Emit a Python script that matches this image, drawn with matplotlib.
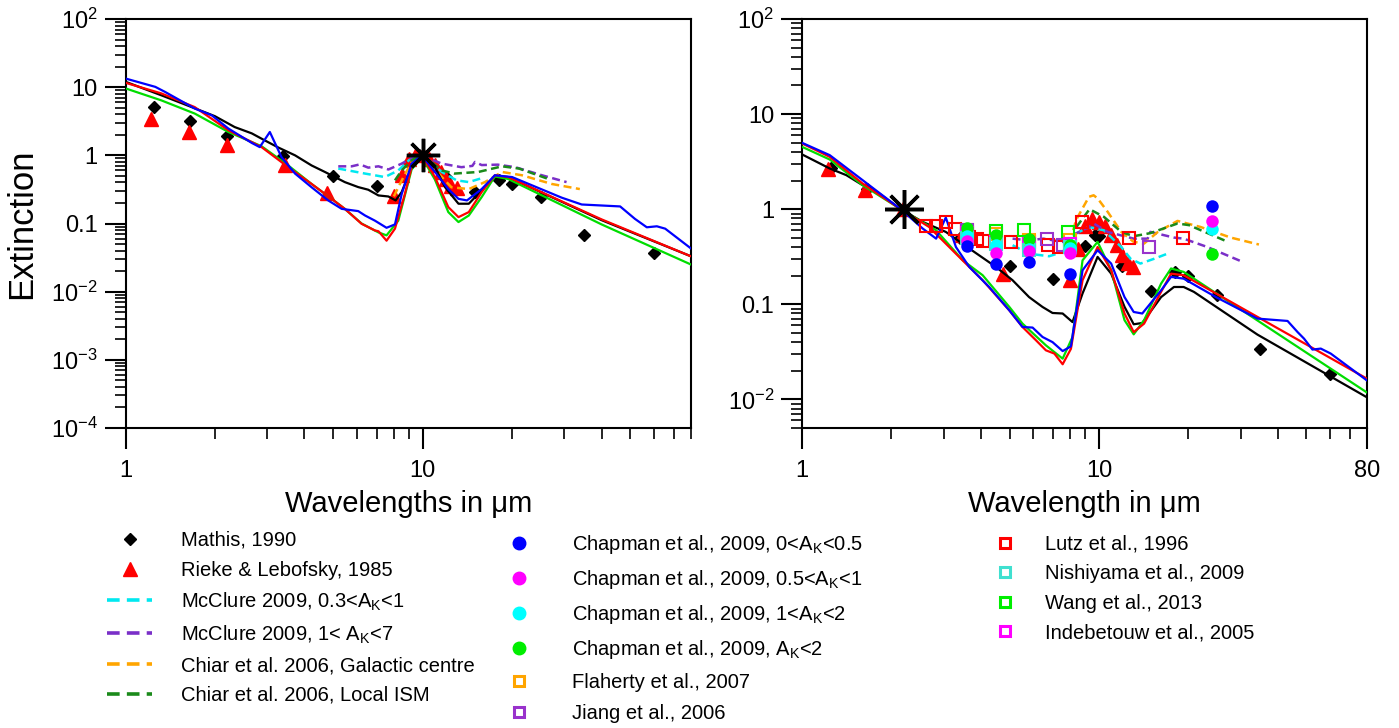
import numpy as np
import matplotlib
matplotlib.use('Agg')
import matplotlib.pyplot as plt
from matplotlib.lines import Line2D
from matplotlib.ticker import LogLocator, NullFormatter

plt.rcParams['font.family'] = ['Liberation Sans', 'DejaVu Sans']
plt.rcParams['mathtext.fontset'] = 'custom'
plt.rcParams['mathtext.rm'] = 'Liberation Sans'
plt.rcParams['mathtext.it'] = 'Liberation Sans:italic'
plt.rcParams['mathtext.bf'] = 'Liberation Sans:bold'

# ---------------- left panel (normalised at 10 um) ----------------
black_L_lam = [1.0, 1.32, 1.71, 2.0, 2.33, 2.66, 2.94, 3.27, 3.72, 4.23, 4.69, 5.47, 6.07, 6.56, 7.1, 7.67,
               8.11, 8.5, 9.18, 9.93, 11.0, 11.9, 13.2, 14.3, 15.8, 17.5, 19.4, 40.0, 80.0]
black_L_val = [12.0, 7.6, 4.9, 3.75, 2.6, 2.1, 1.66, 1.3, 1.0, 0.71, 0.57, 0.405, 0.342, 0.313, 0.258, 0.249,
               0.218, 0.289, 0.67, 1.0, 0.67, 0.34, 0.195, 0.195, 0.306, 0.49, 0.48, 0.112, 0.033]
red_L_lam = [1.0, 1.32, 1.71, 2.22, 2.87, 3.53, 4.23, 4.94, 5.47, 6.23, 6.91, 7.1, 7.56, 8.07, 8.71, 9.18,
             9.93, 11.0, 12.2, 13.2, 14.3, 15.8, 17.5, 19.4, 40.0, 80.0]
red_L_val = [11.6, 8.1, 5.1, 2.33, 1.32, 0.67, 0.38, 0.23, 0.164, 0.099, 0.079, 0.077, 0.056, 0.084, 0.27, 0.67,
             1.0, 0.48, 0.174, 0.124, 0.147, 0.289, 0.51, 0.48, 0.115, 0.033]
green_L_lam = [1.0, 1.32, 1.71, 2.22, 2.87, 3.53, 4.23, 4.94, 5.47, 6.23, 7.1, 7.56, 8.28, 9.18, 9.93, 11.0,
               12.2, 13.2, 14.3, 15.8, 17.5, 19.4, 40.0, 80.0]
green_L_val = [9.6, 6.4, 4.1, 2.2, 1.36, 0.71, 0.38, 0.23, 0.164, 0.1, 0.074, 0.067, 0.11, 0.62, 0.95, 0.44,
               0.147, 0.105, 0.131, 0.244, 0.49, 0.45, 0.097, 0.025]
blue_L_lam = [1.0, 1.26, 1.36, 1.71, 1.95, 2.22, 2.66, 2.83, 3.06, 3.35, 3.72, 4.23, 4.81, 5.34, 6.07, 6.4,
              6.91, 7.56, 8.07, 8.5, 9.18, 9.93, 11.0, 12.2, 13.2, 14.1, 15.8, 17.5, 20.0, 29.4, 34.3, 46.2,
              51.8, 56.8, 61.4, 65.5, 80.0]
blue_L_val = [13.4, 10.1, 8.5, 4.86, 3.87, 2.47, 1.52, 1.32, 2.2, 0.94, 0.54, 0.34, 0.218, 0.164, 0.152, 0.131,
              0.11, 0.0865, 0.097, 0.27, 0.755, 1.0, 0.57, 0.32, 0.23, 0.218, 0.32, 0.51, 0.48, 0.239, 0.19, 0.178,
              0.117, 0.088, 0.091, 0.084, 0.043]

mcc1_L_lam = [5.2, 6.4, 7.46, 8.28, 9.0, 9.7, 10.5, 11.6, 13.0, 14.3, 16.0]
mcc1_L_val = [0.64, 0.54, 0.48, 0.6, 0.85, 1.0, 0.85, 0.57, 0.43, 0.405, 0.47]
mcc2_L_lam = [5.2, 5.77, 6.15, 6.56, 7.1, 7.67, 8.5, 9.2, 9.8, 10.5, 11.6, 13.5, 14.7, 15.0, 15.8, 17.9,
              20.5, 25.2, 30.5]
mcc2_L_val = [0.69, 0.69, 0.737, 0.66, 0.69, 0.62, 0.755, 0.92, 1.0, 0.9, 0.755, 0.67, 0.7, 0.8, 0.72, 0.73,
              0.67, 0.51, 0.405]
chgc_L_lam = [8.0, 8.28, 8.7, 9.2, 9.8, 10.5, 11.5, 12.5, 14.3, 16.2, 18.5, 21.6, 27.2, 33.8]
chgc_L_val = [0.25, 0.34, 0.52, 0.8, 1.0, 0.8, 0.5, 0.34, 0.32, 0.405, 0.57, 0.51, 0.38, 0.32]
chism_L_lam = [8.07, 8.5, 9.2, 9.8, 10.5, 11.6, 12.8, 15.4, 18.5, 21.1, 26.5]
chism_L_val = [0.43, 0.6, 0.85, 1.0, 0.85, 0.6, 0.54, 0.57, 0.69, 0.64, 0.45]

mathis_lam = [1.25, 1.65, 2.2, 3.4, 5.0, 7.0, 9.0, 9.7, 10.0, 12.0, 15.0, 18.0, 20.0, 25.0, 35.0, 60.0]
mathis_L_val = [5.1, 3.2, 1.9, 0.98, 0.49, 0.36, 0.78, 1.0, 0.96, 0.48, 0.29, 0.43, 0.375, 0.244, 0.067, 0.037]
rieke_lam = [1.22, 1.63, 2.19, 3.45, 4.75, 8.0, 8.5, 9.0, 9.5, 10.0, 10.5, 11.0, 11.5, 12.0, 12.5, 13.0]
rieke_L_val = [3.46, 2.2, 1.4, 0.71, 0.28, 0.25, 0.51, 0.89, 1.05, 1.0, 0.89, 0.72, 0.57, 0.45, 0.36, 0.33]

# ---------------- right panel (normalised at K band) ----------------
black_R_lam = [1.0, 1.24, 1.41, 1.6, 1.82, 2.15, 2.55, 3.05, 3.66, 4.5, 5.12, 5.82, 6.46, 6.98, 7.55, 8.15,
               8.81, 9.9, 11.0, 12.2, 13.1, 14.0, 16.2, 17.9, 19.3, 20.9, 34.2, 80.0]
black_R_val = [3.77, 2.68, 2.28, 1.79, 1.46, 1.0, 0.735, 0.577, 0.386, 0.247, 0.179, 0.119, 0.0937, 0.081,
               0.08, 0.065, 0.13, 0.315, 0.21, 0.094, 0.0616, 0.0636, 0.119, 0.152, 0.152, 0.135, 0.048, 0.0105]
red_R_lam = [1.0, 1.24, 1.6, 2.15, 2.68, 3.3, 4.06, 4.99, 5.53, 6.14, 6.63, 7.08, 7.55, 8.05, 8.81, 9.9,
             11.0, 12.2, 13.1, 14.2, 16.2, 17.5, 19.3, 80.0]
red_R_val = [4.92, 3.55, 1.86, 1.0, 0.65, 0.34, 0.179, 0.0865, 0.0577, 0.0418, 0.0328, 0.0303, 0.0234, 0.034,
             0.179, 0.40, 0.228, 0.08, 0.051, 0.0626, 0.135, 0.21, 0.202, 0.0165]
green_R_lam = [1.0, 1.24, 1.6, 2.15, 2.83, 3.48, 4.06, 4.99, 5.53, 6.63, 7.55, 8.15, 8.81, 9.9, 11.0, 12.2,
               13.1, 14.2, 16.2, 17.5, 19.3, 80.0]
green_R_val = [4.53, 3.33, 1.79, 1.0, 0.6, 0.29, 0.202, 0.094, 0.0626, 0.037, 0.0268, 0.0453, 0.29, 0.453,
               0.228, 0.068, 0.0483, 0.068, 0.165, 0.238, 0.219, 0.0118]
blue_R_lam = [1.0, 1.24, 1.6, 2.15, 2.55, 2.83, 3.05, 3.3, 3.66, 4.27, 4.99, 5.53, 5.98, 6.46, 6.98, 7.55,
              8.05, 8.81, 9.9, 11.0, 12.2, 13.1, 14.0, 16.2, 17.5, 19.3, 24.8, 34.2, 43.2, 46.7, 49.1, 52.4,
              55.9, 60.4, 80.0]
blue_R_val = [4.99, 3.7, 2.02, 1.0, 0.626, 0.49, 0.817, 0.40, 0.247, 0.152, 0.0865, 0.0577, 0.0569, 0.0453,
              0.04, 0.0322, 0.0361, 0.228, 0.37, 0.268, 0.119, 0.083, 0.08, 0.14, 0.194, 0.186, 0.119, 0.0707,
              0.0668, 0.051, 0.0435, 0.0334, 0.0342, 0.0303, 0.0158]

mcc1_R_lam = [5.12, 5.82, 6.8, 7.55, 8.37, 9.26, 10.4, 11.9, 12.8, 13.8, 15.3, 17.0]
mcc1_R_val = [0.418, 0.34, 0.32, 0.355, 0.555, 0.65, 0.6, 0.4, 0.30, 0.268, 0.30, 0.34]
mcc2_R_lam = [5.12, 5.8, 6.5, 7.55, 8.37, 9.26, 9.6, 10.7, 13.1, 14.6, 14.9, 17.9, 19.3, 23.2, 30.5]
mcc2_R_val = [0.49, 0.47, 0.49, 0.453, 0.555, 0.65, 0.707, 0.577, 0.49, 0.49, 0.577, 0.503, 0.49, 0.40, 0.279]
chgc_R_lam = [8.2, 8.37, 9.26, 9.6, 9.9, 10.7, 11.9, 13.1, 14.2, 15.8, 18.4, 22.0, 27.8, 34.6]
chgc_R_val = [0.6, 0.766, 1.35, 1.4, 1.3, 0.94, 0.577, 0.453, 0.435, 0.577, 0.753, 0.65, 0.503, 0.425]
chism_R_lam = [8.4, 9.3, 10.4, 11.9, 13.1, 14.9, 18.4, 20.1, 27.2]
chism_R_val = [0.65, 1.0, 0.83, 0.577, 0.52, 0.56, 0.707, 0.68, 0.453]

mathis_R_val = [2.68, 1.65, 1.0, 0.5, 0.253, 0.183, 0.41, 0.53, 0.52, 0.25, 0.138, 0.219, 0.2, 0.126, 0.034, 0.0187]
rieke_R_val = [2.62, 1.58, 1.0, 0.53, 0.21, 0.18, 0.38, 0.66, 0.78, 0.74, 0.66, 0.54, 0.42, 0.33, 0.27, 0.245]

chap_lam = [3.6, 4.5, 5.8, 8.0, 24.0]
chap1_val = [0.41, 0.264, 0.279, 0.21, 1.08]
chap2_val = [0.46, 0.35, 0.36, 0.35, 0.753]
chap3_val = [0.52, 0.42, 0.38, 0.39, 0.616]
chap4_val = [0.64, 0.53, 0.49, 0.42, 0.336]

lutz_lam = [2.62, 2.83, 3.05, 3.28, 3.66, 3.9, 4.06, 5.06, 5.82, 6.72, 7.34, 8.8, 12.6, 19.2]
lutz_val = [0.67, 0.67, 0.73, 0.626, 0.51, 0.49, 0.464, 0.453, 0.453, 0.418, 0.40, 0.735, 0.5, 0.5]
wang_lam = [3.6, 4.5, 5.6, 7.9]
wang_val = [0.555, 0.59, 0.61, 0.57]
jiang_lam = [3.6, 6.7, 7.55, 14.8]
jiang_val = [0.6, 0.48, 0.418, 0.40]
nishi_lam = [3.6, 4.5, 5.8, 8.0]
nishi_val = [0.5, 0.43, 0.37, 0.4]
indeb_lam = [3.6, 4.5, 5.8, 8.0]
indeb_val = [0.56, 0.45, 0.43, 0.43]
flah_lam = [3.6, 4.5, 5.8, 8.0]
flah_val = [0.6, 0.55, 0.47, 0.47]

star_L = (10.0, 1.0)
star_R = (2.2, 1.0)

yticks_L = [1e2, 1e1, 1e0, 1e-1, 1e-2, 1e-3, 1e-4]
ylabels_L = ['10$^{2}$', '10', '1', '0.1', '10$^{-2}$', '10$^{-3}$', '10$^{-4}$']
yticks_R = [1e2, 1e1, 1e0, 1e-1, 1e-2]
ylabels_R = ['10$^{2}$', '10', '1', '0.1', '10$^{-2}$']
xticks_L, xlabels_L = [1, 10], ['1', '10']
xticks_R, xlabels_R = [1, 10, 80], ['1', '10', '80']

C_CYAN = '#00e8f0'
C_PURPLE = '#7a2fc8'
C_ORANGE = '#ffa500'
C_DKGREEN = '#1a8a1a'
C_GREEN = '#00dd00'
DASH = (0, (3.2, 1.8))

W, H = 1399, 728
fig = plt.figure(figsize=(W / 100, H / 100), dpi=100)
axL = fig.add_axes([125.5 / W, 1 - 428 / H, (691 - 125.5) / W, (428 - 19) / H])
axR = fig.add_axes([802 / W, 1 - 428 / H, (1367 - 802) / W, (428 - 19) / H])


def style(ax, ylim, yt, yl, xt, xl):
    ax.set_xscale('log')
    ax.set_yscale('log')
    ax.set_xlim(1, 80)
    ax.set_ylim(*ylim)
    ax.set_xticks(xt, xl)
    ax.set_yticks(yt, yl)
    ax.xaxis.set_minor_locator(LogLocator(subs=np.arange(2, 10), numticks=50))
    ax.yaxis.set_minor_locator(LogLocator(subs=np.arange(2, 10), numticks=50))
    ax.xaxis.set_minor_formatter(NullFormatter())
    ax.yaxis.set_minor_formatter(NullFormatter())
    ax.tick_params(which='major', direction='out', length=15, width=1.5, labelsize=17,
                   top=False, right=False)
    ax.tick_params(axis='y', which='major', pad=5)
    ax.tick_params(axis='x', which='major', pad=8)
    ax.tick_params(which='minor', direction='out', length=8, width=1.2, top=False, right=False)
    for s in ax.spines.values():
        s.set_linewidth(1.5)


def models(ax, k, r, g, b):
    ax.plot(*k, color='black', lw=1.6, zorder=4)
    ax.plot(*g, color=C_GREEN, lw=1.6, zorder=4)
    ax.plot(*r, color='red', lw=1.6, zorder=4)
    ax.plot(*b, color='blue', lw=1.6, zorder=4)


def dashed(ax, c1, c2, gc, ism):
    ax.plot(*c1, color=C_CYAN, lw=1.8, ls=DASH, zorder=3)
    ax.plot(*c2, color=C_PURPLE, lw=1.8, ls=DASH, zorder=3)
    ax.plot(*gc, color=C_ORANGE, lw=1.8, ls=DASH, zorder=3)
    ax.plot(*ism, color=C_DKGREEN, lw=1.8, ls=DASH, zorder=3)


style(axL, (1e-4, 1e2), yticks_L, ylabels_L, xticks_L, xlabels_L)
style(axR, (5e-3, 1e2), yticks_R, ylabels_R, xticks_R, xlabels_R)

# left panel
axL.plot(mathis_lam, mathis_L_val, 'D', color='black', ms=6.5, zorder=2)
axL.plot(rieke_lam, rieke_L_val, '^', color='red', ms=10, zorder=2)
dashed(axL, (mcc1_L_lam, mcc1_L_val), (mcc2_L_lam, mcc2_L_val), (chgc_L_lam, chgc_L_val),
       (chism_L_lam, chism_L_val))
models(axL, (black_L_lam, black_L_val), (red_L_lam, red_L_val), (green_L_lam, green_L_val),
       (blue_L_lam, blue_L_val))
axL.plot(*star_L, marker=(8, 2, 0), color='black', ms=24, mew=2.5, zorder=6)

# right panel
axR.plot(mathis_lam, mathis_R_val, 'D', color='black', ms=6.5, zorder=2)
axR.plot(rieke_lam, rieke_R_val, '^', color='red', ms=10, zorder=2)
dashed(axR, (mcc1_R_lam, mcc1_R_val), (mcc2_R_lam, mcc2_R_val), (chgc_R_lam, chgc_R_val),
       (chism_R_lam, chism_R_val))
models(axR, (black_R_lam, black_R_val), (red_R_lam, red_R_val), (green_R_lam, green_R_val),
       (blue_R_lam, blue_R_val))
sq = dict(ls='none', marker='s', mfc='none', ms=8, mew=1.5, zorder=5)
axR.plot(lutz_lam, lutz_val, mec='red', **sq)
axR.plot(flah_lam, flah_val, mec=C_ORANGE, **sq)
axR.plot(wang_lam, wang_val, mec='#00ee00', **sq)
axR.plot(jiang_lam, jiang_val, mec='#9932cc', **sq)
axR.plot(indeb_lam, indeb_val, mec='#ff00ff', **sq)
axR.plot(nishi_lam, nishi_val, mec='#40e0d0', **sq)
ci = dict(ls='none', marker='o', ms=9, mew=0, zorder=5)
axR.plot(chap_lam, chap4_val, color='#00ee00', **ci)
axR.plot(chap_lam, chap3_val, color='#00ffff', **ci)
axR.plot(chap_lam, chap2_val, color='#ff00ff', **ci)
axR.plot(chap_lam, chap1_val, color='blue', **ci)
axR.plot(*star_R, marker=(8, 2, 0), color='black', ms=28, mew=2.5, zorder=6)

axL.set_ylabel('Extinction', fontsize=25)
axL.yaxis.set_label_coords(-0.155, 0.5)
axL.set_xlabel('Wavelengths in \u03bcm', fontsize=21, labelpad=6)
axR.set_xlabel('Wavelength in \u03bcm', fontsize=21, labelpad=6)

# legends
leg_dash = dict(lw=2.6, ls=(0, (3.5, 2.0)))
col1 = [Line2D([], [], ls='none', marker='D', color='black', ms=6.5),
        Line2D([], [], ls='none', marker='^', color='red', ms=10),
        Line2D([], [], color=C_CYAN, **leg_dash),
        Line2D([], [], color=C_PURPLE, **leg_dash),
        Line2D([], [], color=C_ORANGE, **leg_dash),
        Line2D([], [], color=C_DKGREEN, **leg_dash)]
lab1 = ['Mathis, 1990', 'Rieke & Lebofsky, 1985', 'McClure 2009, 0.3<A$_{\\rm K}$<1',
        'McClure 2009, 1< A$_{\\rm K}$<7', 'Chiar et al. 2006, Galactic centre', 'Chiar et al. 2006, Local ISM']
lsq = dict(ls='none', marker='s', mfc='none', ms=7, mew=2.2)
col2 = [Line2D([], [], ls='none', marker='o', color='blue', ms=9),
        Line2D([], [], ls='none', marker='o', color='#ff00ff', ms=9),
        Line2D([], [], ls='none', marker='o', color='#00ffff', ms=9),
        Line2D([], [], ls='none', marker='o', color='#00ee00', ms=9),
        Line2D([], [], mec=C_ORANGE, **lsq),
        Line2D([], [], mec='#9932cc', **lsq)]
lab2 = ['Chapman et al., 2009, 0<A$_{\\rm K}$<0.5', 'Chapman et al., 2009, 0.5<A$_{\\rm K}$<1',
        'Chapman et al., 2009, 1<A$_{\\rm K}$<2', 'Chapman et al., 2009, A$_{\\rm K}$<2',
        'Flaherty et al., 2007', 'Jiang et al., 2006']
col3 = [Line2D([], [], mec='red', **lsq),
        Line2D([], [], mec='#40e0d0', **lsq),
        Line2D([], [], mec='#00ee00', **lsq),
        Line2D([], [], mec='#ff00ff', **lsq)]
lab3 = ['Lutz et al., 1996', 'Nishiyama et al., 2009', 'Wang et al., 2013', 'Indebetouw et al., 2005']

common = dict(loc='upper left', frameon=False, fontsize=14.5, borderpad=0, borderaxespad=0,
              handlelength=2.25, numpoints=1)
fig.legend(col1, lab1, bbox_to_anchor=(107 / W, 1 - 531 / H), handletextpad=1.4, labelspacing=0.53, **common)
fig.legend(col2, lab2, bbox_to_anchor=(496 / W, 1 - 533 / H), handletextpad=1.5, labelspacing=0.6, **common)
fig.legend(col3, lab3, bbox_to_anchor=(982 / W, 1 - 535 / H), handletextpad=0.9, labelspacing=0.52, **common)

fig.savefig('out.png', dpi=100)
